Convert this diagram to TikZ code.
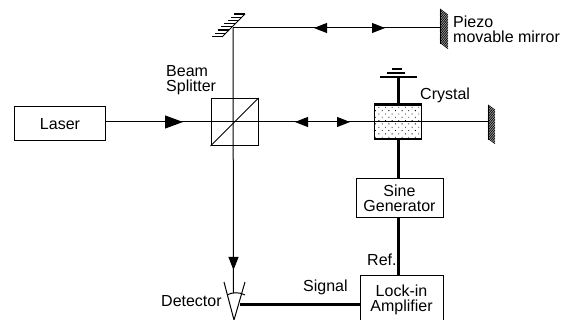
\documentclass[tikz,border=0pt]{standalone}
\usepackage{fontspec}
\setmainfont{Liberation Sans}
\usepackage{xcolor}
\usetikzlibrary{arrows.meta,patterns.meta}

\begin{document}
\begin{tikzpicture}[x=1pt,y=-1pt,
  txt/.style={inner sep=0pt,align=center,font=\fontsize{16}{15.2}\selectfont},
  lefttxt/.style={txt,align=left,anchor=west},
  box/.style={draw,txt,line width=1pt,minimum width=#1},
  beam/.style={line width=1pt},
  wire/.style={line width=3pt},
  plate/.style={line width=2.4pt},
  tipsmall/.style={beam,-{Triangle[length=13pt,width=10pt]}},
  tipbig/.style={beam,-{Triangle[length=18pt,width=13pt]}},
  hatch/.style={line width=.75pt}]
\useasboundingbox (0,0) rectangle (579,320);
% boxes
\node[box=90.5pt,minimum height=34pt] (laser) at (60,124) {Laser};
\node[draw,line width=1pt,minimum size=47pt,inner sep=0pt] (bs) at (234.5,122) {};
\node[draw,line width=1pt,minimum width=47pt,minimum height=34pt,inner sep=0pt,
  pattern={Dots[distance=4.7pt,angle=45,radius=.6pt]}] (crystal) at (398,122) {};
\node[box=87pt,minimum height=39pt] (sine) at (399.5,198.5) {Sine\\Generator};
\node[box=83pt,minimum height=48pt] (lockin) at (401.5,300) {Lock-in\\Amplifier};
% free ends
\coordinate (corner) at (233,28);
\coordinate (piezo) at (440,28);
\coordinate (endmirror) at (488,122);
\coordinate (transducer) at (398,77);
\coordinate (detin) at (233.5,293);
\coordinate (apex) at (234,320);
\coordinate (dettap) at (240,305);
% mirrors
\draw[beam] (245,14)--(222,37);
\foreach \y in {14,17.2,...,37} \draw[line width=1.1pt] (245-\y+14,\y)--++(-11,0);
\draw[beam] (piezo|-0,9)--(piezo|-0,44);
\foreach \y in {9,10.6,...,44} \draw[hatch] (440,\y)--++(8,6);
\draw[beam] (endmirror|-0,105)--(endmirror|-0,140);
\foreach \y in {105,106.6,...,140} \draw[hatch] (488,\y)--++(7,5);
% beams
\draw[beam] (laser.east|-bs)--(bs.center);
\draw[beam] (bs.center)--(endmirror);
\draw[beam] (bs.south west)--(bs.north east);
\draw[beam] (corner)--(piezo);
\draw[beam] (corner)--(detin);
\draw[tipbig] (laser.east|-bs)--(183,122);
\draw[tipsmall] (340,28)--(314,28);
\draw[tipsmall] (340,28)--(385,28);
\draw[tipsmall] (320,122)--(295,122);
\draw[tipsmall] (320,122)--(350,122);
\draw[tipsmall] (233.5,240)--(233.5,270);
% crystal drive
\draw[line width=2.6pt] (crystal.north west)--(crystal.north east);
\draw[line width=2pt] (crystal.south west)--(crystal.south east);
\draw[wire] (transducer)--(crystal.north);
\draw[plate] (380,77)--(417,77);
\draw[plate] (387,73)--(405,73);
\draw[plate] (392,69)--(402,69);
\draw[wire] (crystal.south)--(sine.north-|crystal.south);
\draw[wire] (sine.south-|crystal.south)--(lockin.north-|crystal.south);
% detector
\draw[beam] (224,282)--(apex)--(245,282);
\draw[beam] (227,295) .. controls (232,292) and (240,292) .. (245,295);
\draw[wire] (dettap)--(dettap-|lockin.west);
% labels
\node[lefttxt] (lbeam) at (166,80.5) {Beam\\Splitter};
\node[lefttxt] (lcrystal) at (420,95) {Crystal};
\node[lefttxt] (lpiezo) at (453,29.5) {Piezo\\movable mirror};
\node[lefttxt] (lsignal) at (303,287) {Signal};
\node[lefttxt] (lref) at (367,260) {Ref.};
\node[lefttxt] (ldet) at (161,301) {Detector};
\end{tikzpicture}
\end{document}
